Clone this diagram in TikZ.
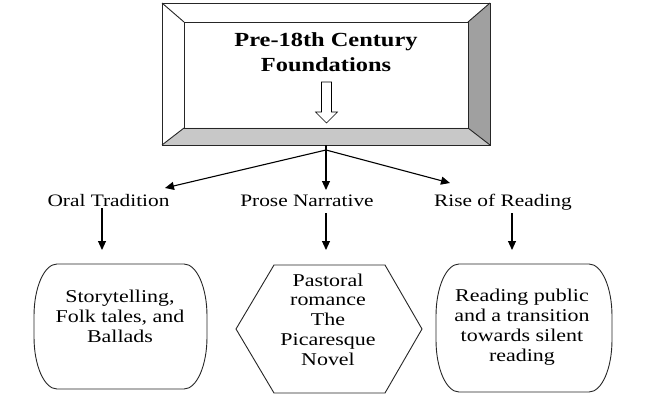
\documentclass[tikz,border=0pt]{standalone}
\usepackage{fontspec}
\setmainfont{Liberation Serif}[FakeStretch=1.22]
\usetikzlibrary{arrows.meta}
\definecolor{facetR}{HTML}{A0A0A0}
\definecolor{facetB}{HTML}{C8C8C8}
\newcommand\mycapsule[4]{%
 \draw[boxline] ({#1+23},#2) -- ({#3-23},#2) .. controls ({#3-10.3},#2) and (#3,{#2+23.3}) .. (#3,{#2+52}) -- (#3,{#4-52}) .. controls (#3,{#4-23.3}) and ({#3-10.3},#4) .. ({#3-23},#4) -- ({#1+23},#4) .. controls ({#1+10.3},#4) and (#1,{#4-23.3}) .. (#1,{#4-52}) -- (#1,{#2+52}) .. controls (#1,{#2+23.3}) and ({#1+10.3},#2) .. cycle;}
\tikzset{
 boxline/.style={line width=0.9pt, draw=black!85},
 conn/.style={line width=1.1pt, -{Triangle[length=9pt,width=8pt]}},
 titletext/.style={anchor=base, align=center, inner sep=0pt, font=\fontsize{20}{25}\selectfont\bfseries},
 labeltext/.style={anchor=base, inner sep=0pt, font=\fontsize{17.5}{20}\selectfont},
 boxtext/.style={anchor=base, align=center, inner sep=0pt, font=\fontsize{18}{19.7}\selectfont},
}
\begin{document}
\begin{tikzpicture}[x=1pt,y=-1pt]
\useasboundingbox (0,0) rectangle (654,404);
\fill[white] (0,0) rectangle (654,404);
% bevelled title box
\fill[white] (162,3) -- (490,3) -- (468,22) -- (184,22) -- cycle;
\fill[white] (162,3) -- (184,22) -- (184,128) -- (162,145) -- cycle;
\fill[facetR] (490,3) -- (490,145) -- (468,128) -- (468,22) -- cycle;
\fill[facetB] (162,145) -- (490,145) -- (468,128) -- (184,128) -- cycle;
\draw[boxline] (162,3) rectangle (490,145);
\draw[boxline] (184,22) rectangle (468,128);
\draw[boxline] (162,3) -- (184,22) (490,3) -- (468,22) (162,145) -- (184,128) (490,145) -- (468,128);
\node[titletext] (title) at (326,72) {Pre-18th Century\\Foundations};
\draw[line width=0.6pt, fill=white] (321.5,82) -- (331.5,82) -- (331.5,112) -- (337.5,112) -- (326.5,123) -- (315.5,112) -- (321.5,112) -- cycle;
% labels
\node[labeltext] (oral) at (108.5,206) {Oral Tradition};
\node[labeltext] (prose) at (307,206) {Prose Narrative};
\node[labeltext] (rise) at (503,206) {Rise of Reading};
% connectors from the title box
\coordinate (boxbottom) at (326,145);
\coordinate (fork) at (326,150);
\coordinate (oraltip) at (165,188);
\coordinate (prosetip) at (326,190);
\coordinate (risetip) at (450,183);
\draw[conn] (fork) -- (oraltip);
\draw[conn] (boxbottom) -- (prosetip);
\draw[conn] (fork) -- (risetip);
% bottom shapes
\mycapsule{34}{264}{207}{389}
\draw[boxline] (236,329) -- (274,265) -- (385,265) -- (422,329) -- (385,393) -- (274,393) -- cycle;
\mycapsule{436}{264}{612}{392}
\node[boxtext] (story) at (120,342) {Storytelling,\\Folk tales, and\\Ballads};
\node[boxtext] (pastoral) at (328,365) {Pastoral\\romance\\The\\Picaresque\\Novel};
\node[boxtext] (public) at (522,361) {Reading public\\and a transition\\towards silent\\reading};
% down connectors
\coordinate (o1) at (102,208); \coordinate (o2) at (102,250);
\coordinate (p1) at (326,213); \coordinate (p2) at (326,250);
\coordinate (r1) at (512,213); \coordinate (r2) at (512,250);
\draw[conn] (o1) -- (o2);
\draw[conn] (p1) -- (p2);
\draw[conn] (r1) -- (r2);
\end{tikzpicture}
\end{document}
